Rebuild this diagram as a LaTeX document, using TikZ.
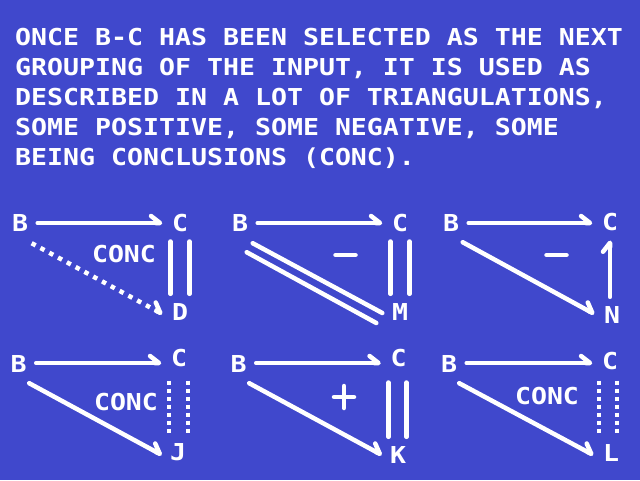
\documentclass[tikz,border=0pt]{standalone}
\usepackage{fontspec}
\usetikzlibrary{arrows.meta}
\newfontfamily\cfont[FakeStretch=1.14]{DejaVu Sans Mono}
\definecolor{screenblue}{RGB}{64,72,204}

\begin{document}
\begin{tikzpicture}[
  x=1pt, y=-1pt,
  font=\cfont\bfseries\fontsize{23.3}{30}\selectfont,
  headline/.style={text=white, inner sep=0pt, anchor=base west},
  letter/.style={text=white, inner sep=9.5pt},
  note/.style={text=white, inner sep=0pt},
  bar/.style={draw=white, line width=4.5pt, line cap=round},
  arrow/.style={bar, -{Straight Barb[left, round, length=9pt, width=14pt]}},
  dotline/.style={draw=white, line width=4.5pt, dash pattern=on 4.5pt off 5.5pt,
    -{Straight Barb[left, round, length=9pt, width=14pt]}},
  tickline/.style={draw=white, line width=4.5pt, dash pattern=on 4pt off 4pt}
]
\fill[screenblue] (0,0) rectangle (640,480);
\useasboundingbox (0,0) rectangle (640,480);

% heading text
\foreach \t [count=\i] in {{ONCE B-C HAS BEEN SELECTED AS THE NEXT},
  {GROUPING OF THE INPUT, IT IS USED AS},
  {DESCRIBED IN A LOT OF TRIANGULATIONS,},
  {SOME POSITIVE, SOME NEGATIVE, SOME},
  {BEING CONCLUSIONS (CONC).}}
  \node[headline] (line\i) at (15,15+30*\i) {\t};

% top row
\node[letter] (b1) at (20,223) {B};
\node[letter] (c1) at (180,223) {C};
\node[letter] (d1) at (180,312) {D};
\node[note] (conc1) at (124,254) {CONC};
\draw[arrow] (b1.east) -- (b1.east -| c1.west);
\draw[dotline] ([shift={(-6,2)}]b1.south east) -- ([shift={(0,2)}]d1.west);
\draw[bar] ([xshift=-9.5pt]c1.south) -- ([xshift=-9.5pt]d1.north);
\draw[bar] ([xshift=9.5pt]c1.south) -- ([xshift=9.5pt]d1.north);

\node[letter] (b2) at (240,223) {B};
\node[letter] (c2) at (400,223) {C};
\node[letter] (m2) at (400,312) {M};
\coordinate (minus2) at (345.5,255);
\draw[arrow] (b2.east) -- (b2.east -| c2.west);
\draw[bar] ([shift={(-5,2)}]b2.south east) -- ([shift={(0,1)}]m2.west);
\draw[bar] ([shift={(-11,11)}]b2.south east) -- ([shift={(-6,11)}]m2.west);
\draw[bar] ([xshift=-9.5pt]c2.south) -- ([xshift=-9.5pt]m2.north);
\draw[bar] ([xshift=9.5pt]c2.south) -- ([xshift=9.5pt]m2.north);
\draw[bar] ([xshift=-10pt]minus2) -- ([xshift=10pt]minus2);

\node[letter] (b3) at (451,223) {B};
\node[letter] (c3) at (610,222) {C};
\node[letter] (n3) at (612,315) {N};
\coordinate (minus3) at (556.5,255);
\draw[arrow] (b3.east) -- (b3.east -| c3.west);
\draw[arrow] ([shift={(-6,1)}]b3.south east) -- ([shift={(0,-1)}]n3.west);
\draw[arrow] (c3.south |- n3.north) -- (c3.south);
\draw[bar] ([xshift=-10pt]minus3) -- ([xshift=10pt]minus3);

% bottom row
\node[letter] (b4) at (18.5,364) {B};
\node[letter] (c4) at (179,358) {C};
\node[letter] (j4) at (178,452) {J};
\node[note] (conc4) at (126,402) {CONC};
\draw[arrow] ([yshift=1pt]b4.east) -- ([yshift=1pt]b4.east -| c4.west);
\draw[arrow] ([shift={(-7,1)}]b4.south east) -- ([shift={(1.5,3)}]j4.west);
\draw[tickline] ([xshift=-10pt]c4.south) ++(0,4) -- ([xshift=-10pt]c4.south |- j4.north);
\draw[tickline] ([xshift=9pt]c4.south) ++(0,4) -- ([xshift=9pt]c4.south |- j4.north);

\node[letter] (b5) at (238.5,364) {B};
\node[letter] (c5) at (398.5,358) {C};
\node[letter] (k5) at (398,455) {K};
\coordinate (plus5) at (344,397);
\draw[arrow] ([yshift=1pt]b5.east) -- ([yshift=1pt]b5.east -| c5.west);
\draw[arrow] ([shift={(-7,1)}]b5.south east) -- ([shift={(1.5,0)}]k5.west);
\draw[bar] ([xshift=-10pt]c5.south) ++(0,6) -- ([xshift=-10pt]c5.south |- k5.north);
\draw[bar] ([xshift=8pt]c5.south) ++(0,6) -- ([xshift=8pt]c5.south |- k5.north);
\draw[bar] ([xshift=-10pt]plus5) -- ([xshift=10pt]plus5);
\draw[bar] ([yshift=-11pt]plus5) -- ([yshift=11pt]plus5);

\node[letter] (b6) at (449,364) {B};
\node[letter] (c6) at (610,361) {C};
\node[letter] (l6) at (611,453) {L};
\node[note] (conc6) at (547,396) {CONC};
\draw[arrow] ([yshift=1pt]b6.east) -- ([yshift=1pt]b6.east -| c6.west);
\draw[arrow] ([shift={(-7.5,1)}]b6.south east) -- ([shift={(0,2)}]l6.west);
\draw[tickline] ([xshift=-11pt]c6.south) ++(0,1) -- ([xshift=-11pt]c6.south |- l6.north);
\draw[tickline] ([xshift=7pt]c6.south) ++(0,1) -- ([xshift=7pt]c6.south |- l6.north);

\end{tikzpicture}
\end{document}
